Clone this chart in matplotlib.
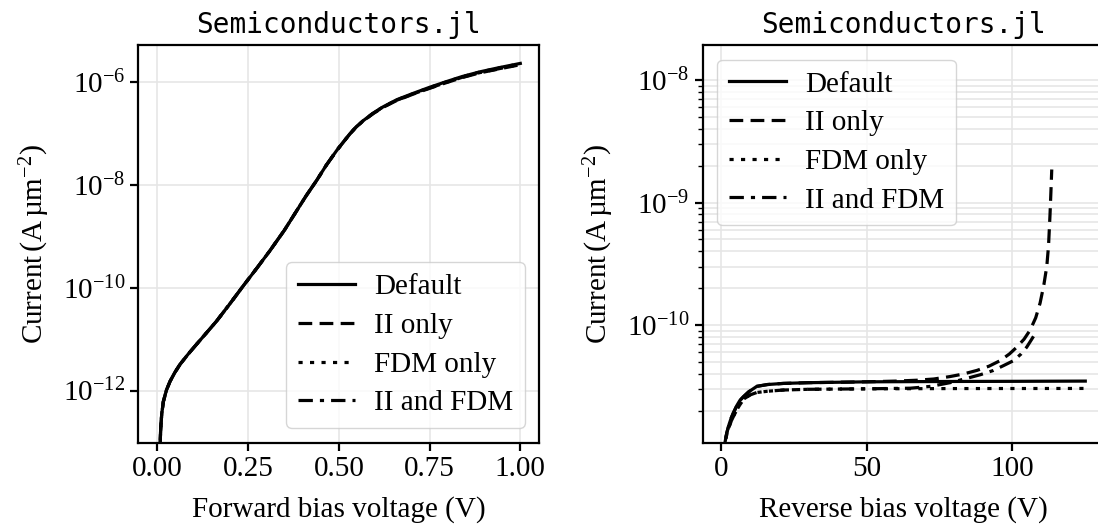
import matplotlib
matplotlib.use('Agg')
import matplotlib.pyplot as plt
import matplotlib.ticker as ticker
import numpy as np

plt.rcParams['font.family'] = ['Liberation Serif', 'DejaVu Serif']
plt.rcParams['mathtext.fontset'] = 'custom'
plt.rcParams['mathtext.rm'] = 'Liberation Serif'
plt.rcParams['mathtext.it'] = 'Liberation Serif:italic'
plt.rcParams['font.size'] = 21

# forward bias sweep: voltage (V) and log10 of current (A/um^2)
v_fwd = [0.0070, 0.0078, 0.0090, 0.0120, 0.0166, 0.025, 0.035, 0.048, 0.0625, 0.085,
         0.108, 0.135, 0.163, 0.200, 0.237, 0.275, 0.310, 0.350, 0.384, 0.410,
         0.439, 0.465, 0.494, 0.513, 0.530, 0.548, 0.567, 0.595, 0.622, 0.660,
         0.704, 0.750, 0.796, 0.840, 0.888, 0.940, 1.000]
log_fwd_default = [-13.6, -13.0, -12.75, -12.45, -12.21, -11.99, -11.82, -11.65, -11.49, -11.29,
                   -11.10, -10.88, -10.65, -10.31, -9.96, -9.61, -9.28, -8.88, -8.50, -8.21,
                   -7.91, -7.62, -7.33, -7.16, -7.01, -6.87, -6.75, -6.60, -6.48, -6.34,
                   -6.22, -6.10, -5.99, -5.89, -5.80, -5.72, -5.635]
log_fwd_ii = [-13.6, -13.0, -12.75, -12.45, -12.21, -11.99, -11.82, -11.65, -11.49, -11.29,
              -11.10, -10.88, -10.65, -10.31, -9.96, -9.61, -9.28, -8.88, -8.50, -8.21,
              -7.91, -7.62, -7.33, -7.16, -7.01, -6.87, -6.755, -6.61, -6.49, -6.355,
              -6.235, -6.12, -6.01, -5.91, -5.82, -5.745, -5.66]
log_fwd_fdm = [-13.6, -13.0, -12.75, -12.45, -12.21, -11.99, -11.82, -11.65, -11.49, -11.29,
               -11.10, -10.88, -10.65, -10.31, -9.96, -9.61, -9.28, -8.88, -8.50, -8.21,
               -7.91, -7.62, -7.33, -7.16, -7.01, -6.87, -6.75, -6.60, -6.48, -6.345,
               -6.225, -6.105, -5.995, -5.895, -5.805, -5.725, -5.64]
log_fwd_both = [-13.6, -13.0, -12.75, -12.45, -12.21, -11.99, -11.82, -11.65, -11.49, -11.29,
                -11.10, -10.88, -10.65, -10.31, -9.96, -9.61, -9.28, -8.88, -8.50, -8.21,
                -7.91, -7.62, -7.33, -7.16, -7.01, -6.87, -6.755, -6.605, -6.485, -6.35,
                -6.23, -6.115, -6.005, -5.905, -5.815, -5.74, -5.655]

# reverse bias sweep
v_rev_default = [1.0, 1.37, 2.0, 2.8, 3.5, 4.2, 5.5, 6.5, 7.7, 9.5, 12.3, 16, 21.4, 30,
                 50, 80, 100, 125]
log_rev_default = [-11.1, -10.96, -10.88, -10.81, -10.76, -10.72, -10.655, -10.615, -10.585,
                   -10.545, -10.50, -10.485, -10.476, -10.47, -10.463, -10.46, -10.459, -10.457]
v_rev_ii = [1.0, 1.37, 2.0, 2.8, 3.5, 4.2, 5.5, 6.5, 7.7, 9.5, 12.3, 16, 21.4, 30,
            50, 60, 67.2, 73, 78.6, 83, 87.8, 92, 95.8, 99, 101.5, 104, 106.1, 108,
            109.5, 110.8, 111.8, 112.4, 112.9, 113.2, 113.5]
log_rev_ii = [-11.1, -10.96, -10.88, -10.81, -10.76, -10.72, -10.655, -10.615, -10.585,
              -10.545, -10.50, -10.485, -10.476, -10.47, -10.463, -10.457, -10.45, -10.44,
              -10.42, -10.40, -10.37, -10.335, -10.29, -10.235, -10.18, -10.115, -10.04,
              -9.94, -9.82, -9.67, -9.52, -9.35, -9.10, -8.92, -8.73]
v_rev_fdm = [1.0, 1.37, 2.0, 2.8, 3.5, 4.2, 5.5, 6.5, 8.0, 10, 12.3, 16, 21.4, 30,
             50, 80, 125]
log_rev_fdm = [-11.1, -10.97, -10.89, -10.83, -10.785, -10.75, -10.69, -10.65, -10.60,
               -10.57, -10.55, -10.54, -10.53, -10.524, -10.52, -10.518, -10.517]
v_rev_both = [1.0, 1.37, 2.0, 2.8, 3.5, 4.2, 5.5, 6.5, 8.0, 10, 12.3, 16, 21.4, 30,
              50, 65, 72, 78.6, 84.3, 89, 93.5, 97, 100.4, 103, 104.9, 106.5, 107.8]
log_rev_both = [-11.1, -10.97, -10.89, -10.83, -10.785, -10.75, -10.69, -10.65, -10.60,
                -10.57, -10.55, -10.54, -10.53, -10.524, -10.52, -10.515, -10.50, -10.47,
                -10.435, -10.405, -10.37, -10.33, -10.29, -10.235, -10.18, -10.12, -10.07]

labels = ['Default', 'II only', 'FDM only', 'II and FDM']
styles = ['-', (0, (4.3, 2.3)), (0, (1.3, 2.3)), (0, (4.5, 2.2, 1.3, 2.2))]
ylab = r'Current$\,\left(\mathrm{A\,µm^{-2}}\right)$'

fig = plt.figure(figsize=(10.98, 5.29), dpi=100)
ax1 = fig.add_axes([0.126, 0.1631, 0.3652, 0.7518])
ax2 = fig.add_axes([0.640, 0.1631, 0.365, 0.7518])

fwd = [log_fwd_default, log_fwd_ii, log_fwd_fdm, log_fwd_both]
for y, ls, lab in zip(fwd, styles, labels):
    ax1.plot(v_fwd, 10.0 ** np.array(y), linestyle=ls, color='black', lw=2.3, label=lab)
ax1.set_yscale('log')
ax1.set_xlim(-0.0525, 1.0525)
ax1.set_ylim(10**-13.016, 10**-5.277)
ax1.set_xticks([0, 0.25, 0.5, 0.75, 1.0])
ax1.xaxis.set_major_formatter(ticker.FormatStrFormatter('%.2f'))
ax1.yaxis.set_major_locator(ticker.FixedLocator([1e-12, 1e-10, 1e-8, 1e-6]))
ax1.yaxis.set_minor_locator(ticker.NullLocator())
ax1.set_xlabel('Forward bias voltage (V)', labelpad=10)
ax1.set_ylabel(ylab, labelpad=8)
ax1.grid(True, which='major', color='#e6e6e6', lw=1.2)
ax1.legend(loc='lower right', handlelength=1.95, handletextpad=0.65,
           labelspacing=0.42, edgecolor='#cccccc')

rev = [(v_rev_default, log_rev_default), (v_rev_ii, log_rev_ii),
       (v_rev_fdm, log_rev_fdm), (v_rev_both, log_rev_both)]
for (x, y), ls, lab in zip(rev, styles, labels):
    ax2.plot(x, 10.0 ** np.array(y), linestyle=ls, color='black', lw=2.3, label=lab)
ax2.set_yscale('log')
ax2.set_xlim(-6.25, 131.25)
ax2.set_ylim(10**-10.96, 10**-7.714)
ax2.set_xticks([0, 50, 100])
ax2.set_xlabel('Reverse bias voltage (V)', labelpad=10)
ax2.set_ylabel(ylab, labelpad=8)
ax2.grid(True, which='both', color='#e6e6e6', lw=1.2)
ax2.legend(loc='upper left', handlelength=1.95, handletextpad=0.65,
           labelspacing=0.42, edgecolor='#cccccc')

for ax in (ax1, ax2):
    ax.set_title('Semiconductors.jl', family='DejaVu Sans Mono', fontsize=20, pad=9)
    ax.set_axisbelow(True)
    for s in ax.spines.values():
        s.set_linewidth(1.6)
    ax.tick_params(which='major', length=6, width=1.6)
    ax.tick_params(which='minor', length=3.5, width=1.0)

fig.savefig('out.png', dpi=100)
